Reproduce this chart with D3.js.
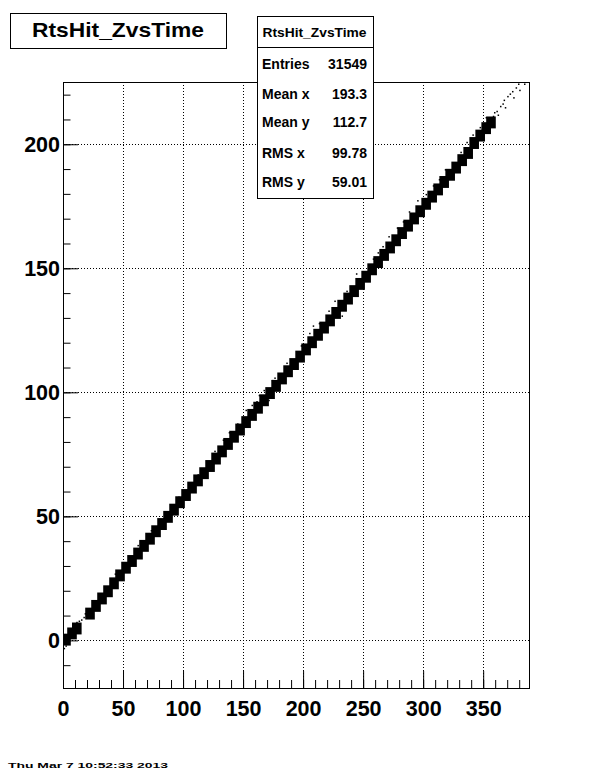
<!DOCTYPE html>
<html><head><meta charset="utf-8">
<script src="https://cdn.jsdelivr.net/npm/d3@7"></script>
<style>body{margin:0;background:#fff}svg{display:block}text{font-family:"Liberation Sans",Arial,Helvetica,sans-serif;font-weight:bold}</style>
</head><body>
<script>
// ---- data ----
const title = "RtsHit_ZvsTime";
const statLabels = ["Entries","Mean x","Mean y","RMS x","RMS y"];
const statValues = ["31549","193.3","112.7","99.78","59.01"];
const xTickLabels = [0,50,100,150,200,250,300,350];
const yTickLabels = [0,50,100,150,200];
const xDomain = [0, 389];
const yDomain = [-19.6, 225.1];
// band cells: time (x) and z (y) centres of dense cells
const bandX = [0,5,9,20,25,30,35,40,45,50,55,60,65,70,75,80,85,90,95,100,105,110,115,120,125,130,135,140,145,150,155,160,165,170,175,180,185,190,195,200,205,210,215,220,225,230,235,240,245,250,255,260,265,270,275,280,285,290,295,300,305,310,315,320,325,330,335,340,345,350,354];
const bandY = [0.3,2.8,4.8,10.8,13.9,16.9,19.8,23.0,26.2,29.3,32.0,35.0,38.1,41.0,44.0,46.9,49.8,52.7,55.7,58.6,61.6,64.5,67.4,70.3,73.3,76.2,79.2,82.1,85.0,88.0,90.9,93.8,96.8,99.7,102.6,105.6,108.5,111.4,114.4,117.3,120.2,123.2,126.1,129.0,132.0,134.9,137.8,140.8,143.7,146.6,149.6,152.5,155.4,158.4,161.3,164.2,167.2,170.1,173.0,176.0,178.9,181.8,184.8,187.7,190.6,193.6,196.5,200.5,203.5,206.5,208.8];
// sparse single entries
const dotX = [1,2,0.5,8,9,11,12,13,15,17,18,43,47,62,73,96,112,126,133,138,145,161,163,174,176,178,186,198,213,221,236,244,258,262,278,283,295,297,308,318,331,347,358,359,361,362,364,366,367,368,370,372,374,375,377,379,380,382,384,152,157,167,171,205,208,226,232,266,271,288,302,313,336,341,352];
const dotY = [-1,-2,-3,6.5,7,7.5,6,8,8.5,9.5,11,27,27.5,38.5,44.5,58,67,76.5,81,84,87.5,96.5,99,105,106,102,112,119,128,133,141,148,154,156.5,166.5,169,177.5,175,183.5,190,197,207,211.5,213,213.5,212,215.5,216.5,218,215,219.5,220.5,221.5,219,223,224.5,222,225.5,224.5,93,95,101,97,124,127,137,131,159,163,173,180,186,201,204,211];
const dateText = "Thu Mar  7 10:52:33 2013";

const W = 596, H = 774;
const L = 63, R = 530, T = 82, B = 689;
const svg = d3.select("body").append("svg").attr("width", W).attr("height", H);
svg.append("rect").attr("width", W).attr("height", H).attr("fill", "#fff");

const x = d3.scaleLinear().domain(xDomain).range([L, R]);
const y = d3.scaleLinear().domain(yDomain).range([B, T]);

// grid
const grid = svg.append("g").attr("stroke", "#000").attr("stroke-width", 1).attr("stroke-dasharray", "1,2");
grid.selectAll(".gx").data(xTickLabels.filter(v => v > 0)).join("line")
  .attr("x1", d => Math.round(x(d)) + 0.5).attr("x2", d => Math.round(x(d)) + 0.5)
  .attr("y1", T).attr("y2", B);
grid.selectAll(".gy").data(yTickLabels).join("line")
  .attr("y1", d => Math.round(y(d)) + 0.5).attr("y2", d => Math.round(y(d)) + 0.5)
  .attr("x1", L).attr("x2", R);

// data
svg.append("clipPath").attr("id", "fc").append("rect")
  .attr("x", L).attr("y", T).attr("width", R - L).attr("height", B - T);
const dataG = svg.append("g").attr("clip-path", "url(#fc)");
const cw = x(8) - x(0), ch = y(0) - y(4.8);
dataG.selectAll(".cell").data(bandX.map((d, i) => [d, bandY[i]])).join("rect")
  .attr("x", d => x(d[0]) - cw / 2 + 3).attr("y", d => y(d[1]) - ch / 2)
  .attr("width", cw).attr("height", ch).attr("fill", "#000");
dataG.selectAll(".dot").data(dotX.map((d, i) => [d, dotY[i]])).join("rect")
  .attr("x", d => x(d[0])).attr("y", d => y(d[1]))
  .attr("width", 1.5).attr("height", 1.5).attr("fill", "#000");

// axes
const minorX = d3.range(0, 390, 10), minorY = d3.range(-10, 230, 10);
const styleLabels = g => g.selectAll("text").attr("font-size", 21.5).attr("fill", "#000")
  .attr("font-family", "'Liberation Sans',Arial,sans-serif").attr("font-weight", "bold");
svg.append("g").attr("transform", `translate(0,${B})`)
  .call(d3.axisBottom(x).tickValues(minorX).tickSizeInner(-9).tickSizeOuter(0).tickFormat(""))
  .call(g => g.select(".domain").remove());
svg.append("g").attr("transform", `translate(0,${B})`)
  .call(d3.axisBottom(x).tickValues(xTickLabels).tickSizeInner(-18).tickSizeOuter(0).tickPadding(12).tickFormat(d3.format("d")))
  .call(g => g.select(".domain").remove())
  .call(styleLabels);
svg.append("g").attr("transform", `translate(${L},0)`)
  .call(d3.axisLeft(y).tickValues(minorY).tickSizeInner(-7.5).tickSizeOuter(0).tickFormat(""))
  .call(g => g.select(".domain").remove());
svg.append("g").attr("transform", `translate(${L},0)`)
  .call(d3.axisLeft(y).tickValues(yTickLabels).tickSizeInner(-15).tickSizeOuter(0).tickPadding(3).tickFormat(d3.format("d")))
  .call(g => g.select(".domain").remove())
  .call(styleLabels);

// frame
svg.append("rect").attr("x", L + 0.5).attr("y", T + 0.5).attr("width", R - L - 1).attr("height", B - T - 1)
  .attr("fill", "none").attr("stroke", "#000").attr("stroke-width", 1);

// title box
svg.append("rect").attr("x", 10.5).attr("y", 13.5).attr("width", 216).attr("height", 35)
  .attr("fill", "#fff").attr("stroke", "#000");
svg.append("text").attr("x", 118).attr("y", 37).attr("text-anchor", "middle")
  .attr("font-size", 21).attr("textLength", 172).attr("lengthAdjust", "spacingAndGlyphs").text(title);

// stats box
svg.append("rect").attr("x", 257.5).attr("y", 16.5).attr("width", 116).attr("height", 182)
  .attr("fill", "#fff").attr("stroke", "#000");
svg.append("line").attr("x1", 257.5).attr("x2", 373.5).attr("y1", 47.5).attr("y2", 47.5).attr("stroke", "#000");
svg.append("text").attr("x", 314.5).attr("y", 37).attr("text-anchor", "middle").attr("font-size", 13)
  .attr("textLength", 104).attr("lengthAdjust", "spacingAndGlyphs").text(title);
const rowY = [69, 99, 127, 158, 187];
statLabels.forEach((s, i) => {
  svg.append("text").attr("x", 262).attr("y", rowY[i]).attr("font-size", 14).text(s);
  svg.append("text").attr("x", 367).attr("y", rowY[i]).attr("text-anchor", "end").attr("font-size", 14).text(statValues[i]);
});

// small date stamp at the bottom
svg.append("text").attr("x", 8).attr("y", 768).attr("font-size", 7)
  .attr("font-weight", "normal").attr("textLength", 160).attr("lengthAdjust", "spacingAndGlyphs").text(dateText);
</script>
</body></html>
